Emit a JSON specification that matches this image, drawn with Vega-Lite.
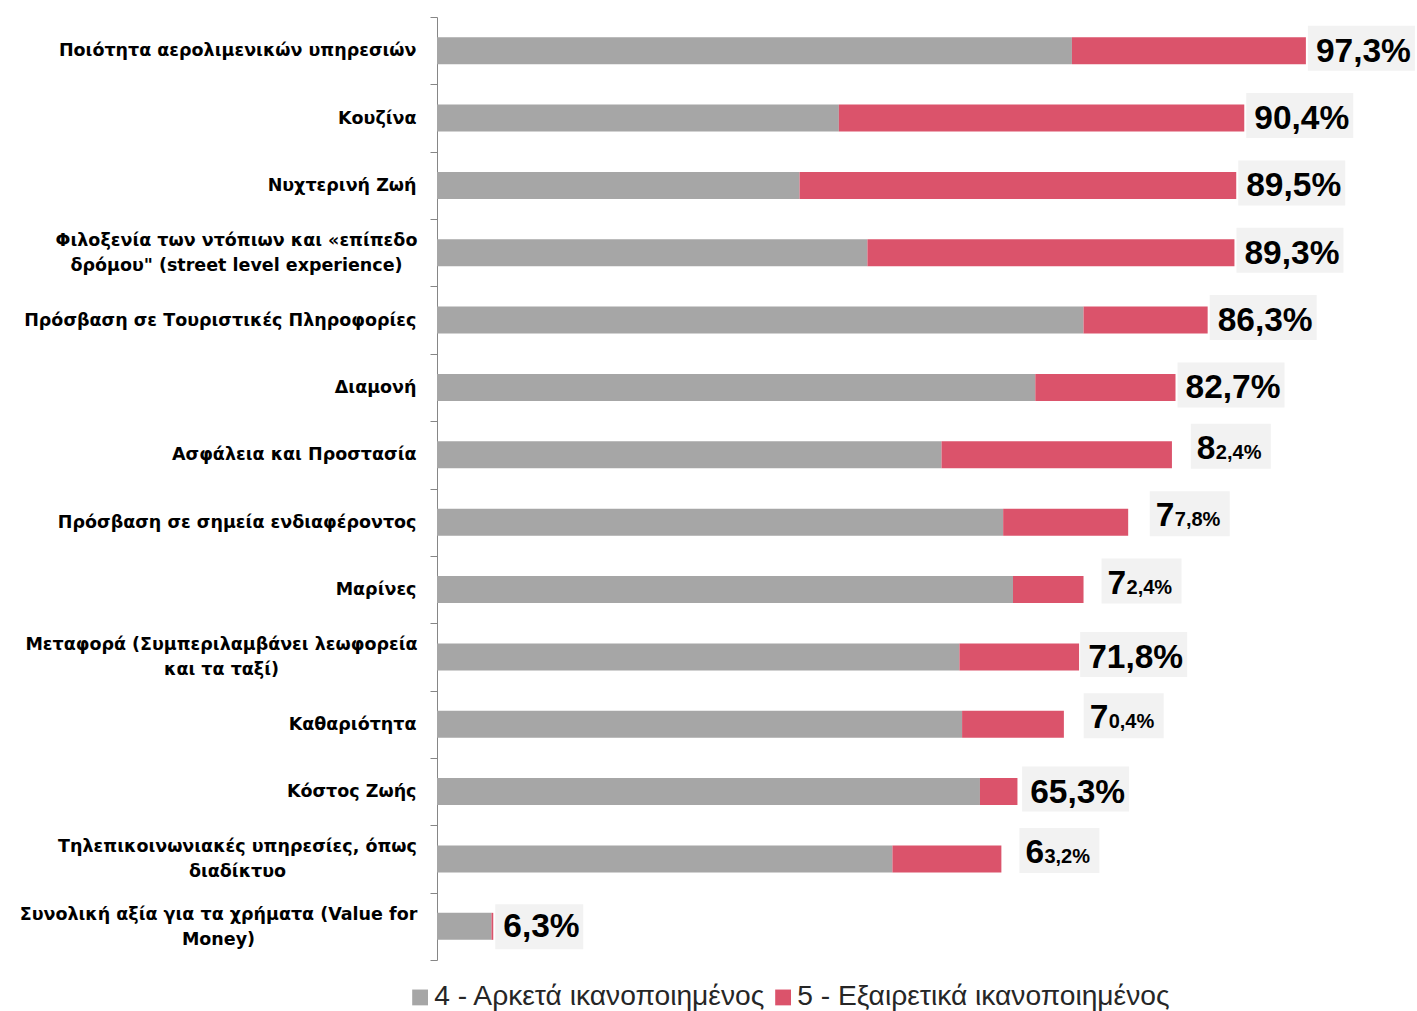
{
  "$schema": "https://vega.github.io/schema/vega-lite/v6.json",
  "width": 893,
  "height": 943,
  "autosize": "none",
  "padding": {"left": 437, "top": 17, "right": 87, "bottom": 51},
  "background": "white",
  "config": {"view": {"stroke": null}, "font": "Liberation Sans"},
  "datasets": {
    "bars": [
      {"category": "Ποιότητα αερολιμενικών υπηρεσιών", "level": "4 - Αρκετά ικανοποιημένος", "pct": 71.1},
      {"category": "Ποιότητα αερολιμενικών υπηρεσιών", "level": "5 - Εξαιρετικά ικανοποιημένος", "pct": 26.2},
      {"category": "Κουζίνα", "level": "4 - Αρκετά ικανοποιημένος", "pct": 45.0},
      {"category": "Κουζίνα", "level": "5 - Εξαιρετικά ικανοποιημένος", "pct": 45.4},
      {"category": "Νυχτερινή Ζωή", "level": "4 - Αρκετά ικανοποιημένος", "pct": 40.6},
      {"category": "Νυχτερινή Ζωή", "level": "5 - Εξαιρετικά ικανοποιημένος", "pct": 48.9},
      {"category": "Φιλοξενία των ντόπιων και «επίπεδο\nδρόμου\" (street level experience)", "level": "4 - Αρκετά ικανοποιημένος", "pct": 48.2},
      {"category": "Φιλοξενία των ντόπιων και «επίπεδο\nδρόμου\" (street level experience)", "level": "5 - Εξαιρετικά ικανοποιημένος", "pct": 41.1},
      {"category": "Πρόσβαση σε Τουριστικές Πληροφορίες", "level": "4 - Αρκετά ικανοποιημένος", "pct": 72.4},
      {"category": "Πρόσβαση σε Τουριστικές Πληροφορίες", "level": "5 - Εξαιρετικά ικανοποιημένος", "pct": 13.9},
      {"category": "Διαμονή", "level": "4 - Αρκετά ικανοποιημένος", "pct": 67.0},
      {"category": "Διαμονή", "level": "5 - Εξαιρετικά ικανοποιημένος", "pct": 15.7},
      {"category": "Ασφάλεια και Προστασία", "level": "4 - Αρκετά ικανοποιημένος", "pct": 56.5},
      {"category": "Ασφάλεια και Προστασία", "level": "5 - Εξαιρετικά ικανοποιημένος", "pct": 25.8},
      {"category": "Πρόσβαση σε σημεία ενδιαφέροντος", "level": "4 - Αρκετά ικανοποιημένος", "pct": 63.4},
      {"category": "Πρόσβαση σε σημεία ενδιαφέροντος", "level": "5 - Εξαιρετικά ικανοποιημένος", "pct": 14.0},
      {"category": "Μαρίνες", "level": "4 - Αρκετά ικανοποιημένος", "pct": 64.5},
      {"category": "Μαρίνες", "level": "5 - Εξαιρετικά ικανοποιημένος", "pct": 7.9},
      {"category": "Μεταφορά (Συμπεριλαμβάνει λεωφορεία\nκαι τα ταξί)", "level": "4 - Αρκετά ικανοποιημένος", "pct": 58.5},
      {"category": "Μεταφορά (Συμπεριλαμβάνει λεωφορεία\nκαι τα ταξί)", "level": "5 - Εξαιρετικά ικανοποιημένος", "pct": 13.4},
      {"category": "Καθαριότητα", "level": "4 - Αρκετά ικανοποιημένος", "pct": 58.8},
      {"category": "Καθαριότητα", "level": "5 - Εξαιρετικά ικανοποιημένος", "pct": 11.4},
      {"category": "Κόστος Ζωής", "level": "4 - Αρκετά ικανοποιημένος", "pct": 60.8},
      {"category": "Κόστος Ζωής", "level": "5 - Εξαιρετικά ικανοποιημένος", "pct": 4.2},
      {"category": "Τηλεπικοινωνιακές υπηρεσίες, όπως\nδιαδίκτυο", "level": "4 - Αρκετά ικανοποιημένος", "pct": 51.0},
      {"category": "Τηλεπικοινωνιακές υπηρεσίες, όπως\nδιαδίκτυο", "level": "5 - Εξαιρετικά ικανοποιημένος", "pct": 12.2},
      {"category": "Συνολική αξία για τα χρήματα (Value for\nMoney)", "level": "4 - Αρκετά ικανοποιημένος", "pct": 6.1},
      {"category": "Συνολική αξία για τα χρήματα (Value for\nMoney)", "level": "5 - Εξαιρετικά ικανοποιημένος", "pct": 0.2}
    ],
    "labels": [
      {"category": "Ποιότητα αερολιμενικών υπηρεσιών", "total": 97.3, "head": "97,3%", "tail": ""},
      {"category": "Κουζίνα", "total": 90.4, "head": "90,4%", "tail": ""},
      {"category": "Νυχτερινή Ζωή", "total": 89.5, "head": "89,5%", "tail": ""},
      {"category": "Φιλοξενία των ντόπιων και «επίπεδο\nδρόμου\" (street level experience)", "total": 89.3, "head": "89,3%", "tail": ""},
      {"category": "Πρόσβαση σε Τουριστικές Πληροφορίες", "total": 86.3, "head": "86,3%", "tail": ""},
      {"category": "Διαμονή", "total": 82.7, "head": "82,7%", "tail": ""},
      {"category": "Ασφάλεια και Προστασία", "total": 82.4, "head": "8", "tail": "2,4%"},
      {"category": "Πρόσβαση σε σημεία ενδιαφέροντος", "total": 77.8, "head": "7", "tail": "7,8%"},
      {"category": "Μαρίνες", "total": 72.4, "head": "7", "tail": "2,4%"},
      {"category": "Μεταφορά (Συμπεριλαμβάνει λεωφορεία\nκαι τα ταξί)", "total": 71.8, "head": "71,8%", "tail": ""},
      {"category": "Καθαριότητα", "total": 70.4, "head": "7", "tail": "0,4%"},
      {"category": "Κόστος Ζωής", "total": 65.3, "head": "65,3%", "tail": ""},
      {"category": "Τηλεπικοινωνιακές υπηρεσίες, όπως\nδιαδίκτυο", "total": 63.2, "head": "6", "tail": "3,2%"},
      {"category": "Συνολική αξία για τα χρήματα (Value for\nMoney)", "total": 6.3, "head": "6,3%", "tail": ""}
    ]
  },
  "encoding": {
    "y": {
      "field": "category",
      "type": "nominal",
      "sort": null,
      "scale": {"paddingInner": 0, "paddingOuter": 0},
      "axis": {
        "title": null,
        "domainColor": "#868686",
        "tickColor": "#868686",
        "tickSize": 7,
        "tickBand": "extent",
        "labelFont": "DejaVu Sans",
        "labelFontSize": 17.5,
        "labelFontWeight": "bold",
        "labelColor": "#000000",
        "labelLimit": 600,
        "labelLineHeight": 25,
        "labelExpr": "indexof(datum.label + '', '\\n') < 0 ? datum.label : split(datum.label, '\\n')",
        "labelAlign": {"condition": {"test": "isString(datum.value) && indexof(datum.value, '\\n') >= 0", "value": "center"}, "value": "right"},
        "labelBaseline": {"condition": {"test": "isString(datum.value) && indexof(datum.value, '\\n') >= 0", "value": "line-bottom"}, "value": "middle"},
        "labelPadding": {
          "condition": [
            {"test": "isString(datum.value) && indexof(datum.value, 'Φιλοξενία') >= 0", "value": 194},
            {"test": "isString(datum.value) && indexof(datum.value, 'Μεταφορά') >= 0", "value": 209},
            {"test": "isString(datum.value) && indexof(datum.value, 'Τηλεπικοινωνιακές') >= 0", "value": 193},
            {"test": "isString(datum.value) && indexof(datum.value, 'Συνολική') >= 0", "value": 212}
          ],
          "value": 14
        }
      }
    }
  },
  "layer": [
    {
      "data": {"name": "bars"},
      "mark": {"type": "bar", "size": 27},
      "encoding": {
        "x": {"field": "pct", "type": "quantitative", "stack": "zero", "scale": {"domain": [0, 100], "nice": false, "zero": true}, "axis": null},
        "color": {
          "field": "level",
          "type": "nominal",
          "scale": {"domain": ["4 - Αρκετά ικανοποιημένος", "5 - Εξαιρετικά ικανοποιημένος"], "range": ["#a6a6a6", "#db536b"]},
          "legend": {
            "title": null,
            "orient": "none",
            "direction": "horizontal",
            "legendX": -31,
            "legendY": 966,
            "symbolType": "square",
            "symbolSize": 250,
            "symbolStrokeWidth": 0,
            "labelFont": "Liberation Sans",
            "labelFontSize": 28.2,
            "labelColor": "#262626",
            "labelOffset": 0,
            "labelLimit": 600,
            "columnPadding": 3
          }
        },
        "order": {"field": "level", "sort": "ascending"}
      }
    },
    {
      "data": {"name": "labels"},
      "transform": [{"filter": "datum.tail == '' && length(datum.head) >= 5"}],
      "mark": {"type": "point", "shape": "M2,-25H109V20H2Z", "size": 4, "filled": true, "fill": "#f2f2f2", "opacity": 1, "strokeWidth": 0},
      "encoding": {"x": {"field": "total", "type": "quantitative", "axis": null}}
    },
    {
      "data": {"name": "labels"},
      "transform": [{"filter": "datum.tail == '' && length(datum.head) < 5"}],
      "mark": {"type": "point", "shape": "M2,-22H90V23H2Z", "size": 4, "filled": true, "fill": "#f2f2f2", "opacity": 1, "strokeWidth": 0},
      "encoding": {"x": {"field": "total", "type": "quantitative", "axis": null}}
    },
    {
      "data": {"name": "labels"},
      "transform": [{"filter": "datum.tail != ''"}],
      "mark": {"type": "point", "shape": "M18,-31H98V14H18Z", "size": 4, "filled": true, "fill": "#f2f2f2", "opacity": 1, "strokeWidth": 0},
      "encoding": {"x": {"field": "total", "type": "quantitative", "axis": null}}
    },
    {
      "data": {"name": "labels"},
      "transform": [{"filter": "datum.tail == ''"}],
      "mark": {"type": "text", "align": "left", "baseline": "alphabetic", "dx": 10, "dy": 11, "font": "Liberation Sans", "fontSize": 33.5, "fontWeight": "bold", "color": "#000000"},
      "encoding": {"x": {"field": "total", "type": "quantitative", "axis": null}, "text": {"field": "head"}}
    },
    {
      "data": {"name": "labels"},
      "transform": [{"filter": "datum.tail != ''"}],
      "mark": {"type": "text", "align": "left", "baseline": "alphabetic", "dx": 24, "dy": 4, "font": "Liberation Sans", "fontSize": 33.5, "fontWeight": "bold", "color": "#000000"},
      "encoding": {"x": {"field": "total", "type": "quantitative", "axis": null}, "text": {"field": "head"}}
    },
    {
      "data": {"name": "labels"},
      "transform": [{"filter": "datum.tail != ''"}],
      "mark": {"type": "text", "align": "left", "baseline": "alphabetic", "dx": 43, "dy": 4, "font": "Liberation Sans", "fontSize": 20, "fontWeight": "bold", "color": "#000000"},
      "encoding": {"x": {"field": "total", "type": "quantitative", "axis": null}, "text": {"field": "tail"}}
    }
  ]
}
